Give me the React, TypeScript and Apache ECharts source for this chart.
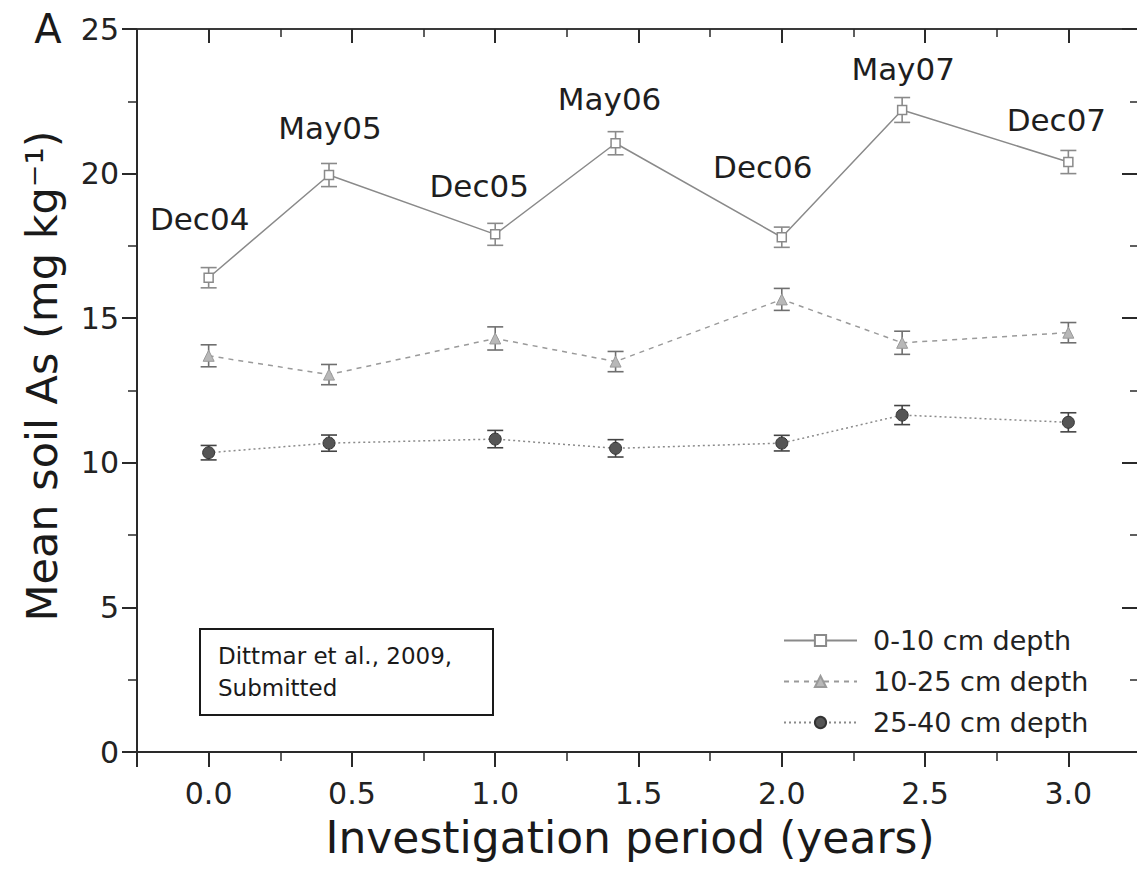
import React, { useEffect, useRef } from 'react';
import * as echarts from 'echarts';

const FONT = '"DejaVu Sans", "Liberation Sans", Arial, sans-serif';

// Sampling campaigns (x in years since Dec 2004)
const campaigns = ['Dec04', 'May05', 'Dec05', 'May06', 'Dec06', 'May07', 'Dec07'];
const xYears = [0, 0.42, 1.0, 1.42, 2.0, 2.42, 3.0];

const seriesNames = ['0-10 cm depth', '10-25 cm depth', '25-40 cm depth'];

// Mean soil As (mg kg-1) and error bar half-widths
const mean0to10 = [16.4, 19.95, 17.9, 21.05, 17.8, 22.2, 20.4];
const err0to10 = [0.35, 0.4, 0.38, 0.4, 0.35, 0.43, 0.4];
const mean10to25 = [13.7, 13.05, 14.3, 13.5, 15.65, 14.15, 14.5];
const err10to25 = [0.38, 0.35, 0.4, 0.35, 0.38, 0.4, 0.35];
const mean25to40 = [10.35, 10.68, 10.82, 10.5, 10.68, 11.65, 11.4];
const err25to40 = [0.25, 0.28, 0.3, 0.3, 0.27, 0.33, 0.33];

// label placement offsets (pixels) for the campaign names
const labelOffsets = [
  [-9, -59],
  [1, -47],
  [-16, -48],
  [-6, -44],
  [-19, -70],
  [1, -41],
  [-12, -42],
];

function errorBarSeries(name: string, means: number[], errs: number[], color: string) {
  return {
    type: 'custom',
    name,
    xAxisIndex: 0,
    yAxisIndex: 0,
    z: 2,
    silent: true,
    encode: { x: 0, y: 1 },
    data: xYears.map((x, i) => [x, means[i], errs[i]]),
    renderItem: (params: any, api: any) => {
      const x = api.value(0);
      const y = api.value(1);
      const e = api.value(2);
      const top = api.coord([x, y + e]);
      const bot = api.coord([x, y - e]);
      const w = 8;
      const style = { stroke: color, lineWidth: 1.6 };
      return {
        type: 'group',
        children: [
          { type: 'line', shape: { x1: top[0], y1: top[1], x2: bot[0], y2: bot[1] }, style },
          { type: 'line', shape: { x1: top[0] - w, y1: top[1], x2: top[0] + w, y2: top[1] }, style },
          { type: 'line', shape: { x1: bot[0] - w, y1: bot[1], x2: bot[0] + w, y2: bot[1] }, style },
        ],
      };
    },
  };
}

const axisColor = '#2a2a2a';
const halfFormatter = (v: number) =>
  Math.abs(v * 2 - Math.round(v * 2)) < 1e-6 ? v.toFixed(1) : '';

export default function App() {
  const ref = useRef<HTMLDivElement>(null);

  useEffect(() => {
    if (!ref.current) return;
    const chart = echarts.init(ref.current, undefined, { renderer: 'svg' });

    const option: any = {
      animation: false,
      backgroundColor: '#ffffff',
      textStyle: { fontFamily: FONT },
      grid: {
        left: 137,
        top: 29,
        width: 1003,
        height: 723,
        containLabel: false,
        outerBoundsMode: 'none',
      },
      xAxis: [
        {
          type: 'value',
          position: 'bottom',
          min: -0.25,
          max: 3.25,
          splitNumber: 7,
          axisLine: { show: true, onZero: false, lineStyle: { color: axisColor, width: 2 } },
          axisTick: { show: true, inside: false, length: 15, lineStyle: { color: axisColor, width: 2 } },
          axisLabel: {
            show: true,
            margin: 26,
            fontSize: 30,
            fontFamily: FONT,
            color: '#222',
            formatter: halfFormatter,
          },
          splitLine: { show: false },
        },
        {
          type: 'value',
          position: 'bottom',
          min: -0.25,
          max: 3.25,
          interval: 0.25,
          axisLine: { show: false, onZero: false },
          axisTick: { show: true, inside: false, length: 9, lineStyle: { color: axisColor, width: 1.5 } },
          axisLabel: { show: false },
          splitLine: { show: false },
        },
        {
          type: 'value',
          position: 'top',
          min: -0.25,
          max: 3.25,
          interval: 0.25,
          axisLine: { show: true, onZero: false, lineStyle: { color: '#3a3a3a', width: 2 } },
          axisTick: { show: true, inside: true, length: 8, lineStyle: { color: axisColor, width: 1.5 } },
          axisLabel: { show: false },
          splitLine: { show: false },
        },
        {
          type: 'value',
          position: 'top',
          min: -0.25,
          max: 3.25,
          splitNumber: 7,
          axisLine: { show: false, onZero: false },
          axisTick: { show: true, inside: true, length: 14, lineStyle: { color: axisColor, width: 2 } },
          axisLabel: { show: false },
          splitLine: { show: false },
        },
      ],
      yAxis: [
        {
          type: 'value',
          position: 'left',
          min: 0,
          max: 25,
          interval: 5,
          axisLine: { show: true, onZero: false, lineStyle: { color: axisColor, width: 2 } },
          axisTick: { show: true, inside: false, length: 15, lineStyle: { color: axisColor, width: 2 } },
          minorTick: { show: true, splitNumber: 2, length: 9, lineStyle: { color: axisColor, width: 1.5 } },
          axisLabel: { show: true, margin: 18, fontSize: 30, fontFamily: FONT, color: '#222' },
          splitLine: { show: false },
          minorSplitLine: { show: false },
        },
        {
          type: 'value',
          position: 'right',
          min: 0,
          max: 25,
          interval: 5,
          axisLine: { show: true, onZero: false, lineStyle: { color: axisColor, width: 2 } },
          axisTick: { show: true, inside: true, length: 18, lineStyle: { color: axisColor, width: 2 } },
          minorTick: { show: true, splitNumber: 2, length: 10, lineStyle: { color: axisColor, width: 1.5 } },
          axisLabel: { show: false },
          splitLine: { show: false },
          minorSplitLine: { show: false },
        },
      ],
      legend: {
        orient: 'vertical',
        left: 783,
        top: 627,
        padding: 0,
        itemWidth: 73,
        itemHeight: 14,
        itemGap: 14,
        data: seriesNames,
        textStyle: { fontSize: 27, fontFamily: FONT, color: '#222', padding: [0, 0, 0, 11] },
      },
      graphic: [
        {
          type: 'text',
          x: 48,
          y: 29,
          style: {
            text: 'A',
            fontSize: 40,
            fontFamily: FONT,
            fill: '#1a1a1a',
            textAlign: 'center',
            textVerticalAlign: 'middle',
            align: 'center',
            verticalAlign: 'middle',
          },
        },
        {
          type: 'text',
          x: 42,
          y: 376,
          rotation: Math.PI / 2,
          style: {
            text: 'Mean soil As (mg kg⁻¹)',
            fontSize: 43,
            fontFamily: FONT,
            fill: '#1a1a1a',
            textAlign: 'center',
            textVerticalAlign: 'middle',
            align: 'center',
            verticalAlign: 'middle',
          },
        },
        {
          type: 'text',
          x: 630,
          y: 837,
          style: {
            text: 'Investigation period (years)',
            fontSize: 44,
            fontFamily: FONT,
            fill: '#1a1a1a',
            textAlign: 'center',
            textVerticalAlign: 'middle',
            align: 'center',
            verticalAlign: 'middle',
          },
        },
        {
          type: 'rect',
          shape: { x: 200, y: 629, width: 293, height: 86 },
          style: { fill: '#ffffff', stroke: '#1a1a1a', lineWidth: 2 },
        },
        {
          type: 'text',
          x: 218,
          y: 640,
          style: {
            text: 'Dittmar et al., 2009,\nSubmitted',
            fontSize: 23,
            lineHeight: 32,
            fontFamily: FONT,
            fill: '#1a1a1a',
            textAlign: 'left',
            textVerticalAlign: 'top',
            align: 'left',
            verticalAlign: 'top',
          },
        },
      ],
      series: [
        errorBarSeries('err-0-10', mean0to10, err0to10, '#8a8a8a'),
        errorBarSeries('err-10-25', mean10to25, err10to25, '#6f6f6f'),
        errorBarSeries('err-25-40', mean25to40, err25to40, '#444444'),
        {
          type: 'line',
          name: seriesNames[0],
          xAxisIndex: 0,
          yAxisIndex: 0,
          z: 3,
          data: xYears.map((x, i) => ({
            name: campaigns[i],
            value: [x, mean0to10[i]],
            label: { offset: labelOffsets[i] },
          })),
          symbol: 'rect',
          symbolSize: 9,
          itemStyle: { color: '#ffffff', borderColor: '#8a8a8a', borderWidth: 1.5 },
          lineStyle: { color: '#8a8a8a', width: 1.5, type: 'solid' },
          label: {
            show: true,
            position: 'inside',
            formatter: '{b}',
            fontSize: 31,
            fontFamily: FONT,
            color: '#1e1e1e',
          },
        },
        {
          type: 'line',
          name: seriesNames[1],
          xAxisIndex: 0,
          yAxisIndex: 0,
          z: 3,
          data: xYears.map((x, i) => [x, mean10to25[i]]),
          symbol: 'triangle',
          symbolSize: 11,
          itemStyle: { color: '#b8b8b8', borderColor: '#9a9a9a', borderWidth: 1 },
          lineStyle: { color: '#9a9a9a', width: 1.5, type: [5, 5] },
        },
        {
          type: 'line',
          name: seriesNames[2],
          xAxisIndex: 0,
          yAxisIndex: 0,
          z: 3,
          data: xYears.map((x, i) => [x, mean25to40[i]]),
          symbol: 'circle',
          symbolSize: 12,
          itemStyle: { color: '#555555', borderColor: '#333333', borderWidth: 1 },
          lineStyle: { color: '#8a8a8a', width: 1.5, type: [2, 3] },
        },
      ],
    };

    chart.setOption(option);
    return () => {
      chart.dispose();
    };
  }, []);

  return (
    <div
      ref={ref}
      style={{ position: 'fixed', left: 0, top: 0, width: 1137, height: 874, background: '#fff' }}
    />
  );
}
